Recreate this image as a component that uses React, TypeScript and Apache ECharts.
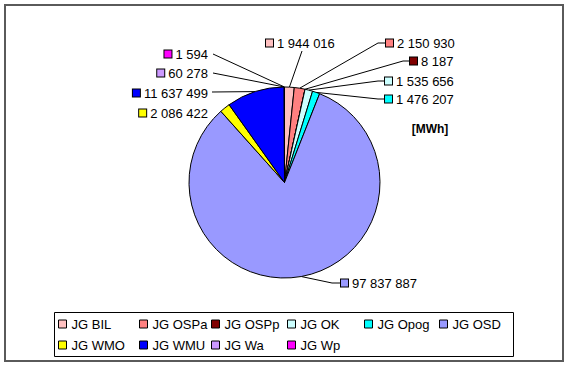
import React, { useEffect, useRef } from 'react';
import * as echarts from 'echarts';

const categories = ['JG BIL', 'JG OSPa', 'JG OSPp', 'JG OK', 'JG Opog', 'JG OSD', 'JG WMO', 'JG WMU', 'JG Wa', 'JG Wp'];
const values = [1944016, 2150930, 8187, 1535656, 1476207, 97837887, 2086422, 11637499, 60278, 1594];
const colors = ['#FFC0C0', '#FF8080', '#800000', '#CCFFFF', '#00FFFF', '#9999FF', '#FFFF00', '#0000FF', '#CC99FF', '#FF00FF'];
const unitLabel = '[MWh]';
const legendColumns = [[0, 6], [1, 7], [2, 8], [3, 9], [4], [5]];

// layout (not data)
const FONT = 'Liberation Sans, Arial, sans-serif';
const CX = 284.5;
const CY = 182.5;
const R = 95.5;
const legendLeft = [58, 139, 211, 287, 364, 439];
type LP = { x: number; y: number; align: 'left' | 'right'; tail: number[][] | null };
const labelPos: LP[] = [
  { x: 266, y: 43, align: 'left', tail: [[302, 51]] },
  { x: 386, y: 43, align: 'left', tail: [[378, 43], [385, 43]] },
  { x: 410, y: 61, align: 'left', tail: [[403, 61], [409, 61]] },
  { x: 385, y: 81, align: 'left', tail: [[378, 81], [384, 81]] },
  { x: 385, y: 99, align: 'left', tail: [[378, 99], [384, 99]] },
  { x: 341, y: 283, align: 'left', tail: [[332, 283], [340, 283]] },
  { x: 208, y: 113, align: 'right', tail: null },
  { x: 208, y: 93, align: 'right', tail: [[212, 92]] },
  { x: 208, y: 73, align: 'right', tail: [[213, 73]] },
  { x: 208, y: 54, align: 'right', tail: [[213, 54]] },
];

const fmt = (v: number) => String(v).replace(/\B(?=(\d{3})+(?!\d))/g, ' ');

const total = values.reduce((a, b) => a + b, 0);
const anchorOf = (i: number) => {
  let cum = 0;
  for (let k = 0; k < i; k++) cum += values[k];
  const a = ((cum + values[i] / 2) / total) * Math.PI * 2;
  return [CX + R * Math.sin(a), CY - R * Math.cos(a)];
};

export default function App() {
  const ref = useRef<HTMLDivElement>(null);
  useEffect(() => {
    if (!ref.current) return;
    const chart = echarts.init(ref.current, undefined, { renderer: 'svg' });
    const rich: any = {
      g: { width: 4, height: 8 },
      v: { fontSize: 13, color: '#000', fontFamily: FONT, verticalAlign: 'middle' },
    };
    colors.forEach((c, i) => {
      rich['s' + i] = { width: 7, height: 7, backgroundColor: c, borderColor: '#000', borderWidth: 1, verticalAlign: 'middle' };
    });
    chart.setOption({
      animation: false,
      backgroundColor: '#fff',
      legend: legendColumns.map((col, k) => ({
        orient: 'vertical',
        left: legendLeft[k],
        top: 316,
        padding: 0,
        itemGap: 5,
        icon: 'rect',
        itemWidth: 8,
        itemHeight: 8,
        selectedMode: false,
        data: col.map((i) => categories[i]),
        itemStyle: { borderColor: '#000', borderWidth: 1 },
        textStyle: { fontSize: 13, color: '#000', fontFamily: FONT, lineHeight: 16 },
      })),
      graphic: [
        { type: 'rect', shape: { x: 5, y: 5, width: 558, height: 356 }, style: { fill: 'none', stroke: '#5a5a5a', lineWidth: 2 }, silent: true },
        { type: 'rect', shape: { x: 54.5, y: 312.5, width: 459, height: 44 }, style: { fill: 'none', stroke: '#000', lineWidth: 1 }, silent: true },
        { type: 'text', x: 430, y: 129, style: { text: unitLabel, font: 'bold 12px ' + FONT, fill: '#000', align: 'center', verticalAlign: 'middle' }, silent: true },
      ],
      series: [
        {
          type: 'pie',
          center: [CX, CY],
          radius: R,
          startAngle: 90,
          clockwise: true,
          minAngle: 0,
          avoidLabelOverlap: false,
          silent: true,
          emphasis: { disabled: true },
          itemStyle: { borderColor: '#000', borderWidth: 1 },
          data: categories.map((name, i) => ({
            name,
            value: values[i],
            itemStyle: { color: colors[i] },
            labelLine: { show: labelPos[i].tail !== null },
          })),
          label: {
            show: true,
            position: 'outside',
            formatter: (p: any) => `{s${p.dataIndex}|}{g|}{v|${fmt(p.value)}}`,
            rich,
          },
          labelLine: { show: true, length: 10, length2: 10, lineStyle: { color: '#000', width: 1 } },
          labelLayout: (params: any) => {
            const i = params.dataIndex;
            const L = labelPos[i];
            const a = anchorOf(i);
            const res: any = { x: L.x, y: L.y, align: L.align, verticalAlign: 'middle' };
            if (L.tail) res.labelLinePoints = [a, ...L.tail];
            return res;
          },
        },
      ],
    });
    return () => chart.dispose();
  }, []);
  return <div ref={ref} style={{ position: 'absolute', left: 0, top: 0, width: 570, height: 365, background: '#fff' }} />;
}
